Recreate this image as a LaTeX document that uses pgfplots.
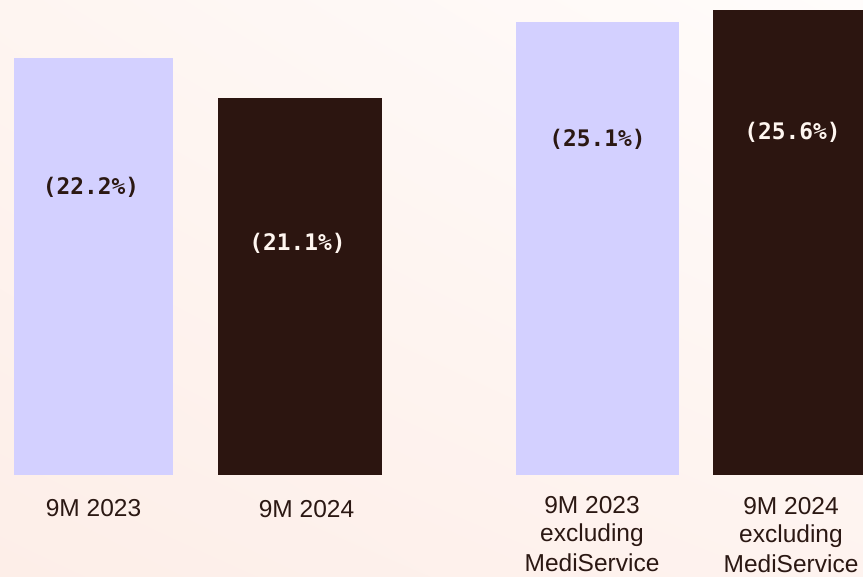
\documentclass[border=0pt]{standalone}
\usepackage{pgfplots}
\pgfplotsset{compat=1.18}
\usetikzlibrary{shadings}
\usepackage{fontspec}
\setmainfont{Liberation Sans}
\newfontfamily\monofont{DejaVu Sans Mono}
\definecolor{lav}{HTML}{D3D0FF}
\definecolor{dark}{HTML}{2C1510}
\definecolor{txt}{HTML}{2B1813}
\definecolor{creamtxt}{HTML}{FFF6F0}
\definecolor{bgLL}{HTML}{FDEEE8}
\definecolor{bgLR}{HTML}{FEF3EF}
\definecolor{bgUL}{HTML}{FEF5F1}
\definecolor{bgUR}{HTML}{FFFCFB}
\begin{document}
\begin{tikzpicture}
\shade[lower left=bgLL, lower right=bgLR, upper left=bgUL, upper right=bgUR] (0,0) rectangle (863pt,577pt);
\begin{axis}[at={(0,0)}, anchor=south west,
  width=863pt, height=577pt, scale only axis,
  xmin=0, xmax=863, ymin=-102, ymax=475,
  hide axis, clip=true,
  every node/.style={text=txt}]
\addplot[ybar, bar shift=0pt, bar width=159, fill=lav, draw=none] coordinates {(93.5,417)};
\addplot[ybar, bar shift=0pt, bar width=164, fill=dark, draw=none] coordinates {(300,377)};
\addplot[ybar, bar shift=0pt, bar width=163, fill=lav, draw=none] coordinates {(597.5,453)};
\addplot[ybar, bar shift=0pt, bar width=163, fill=dark, draw=none] coordinates {(794.5,465)};
% value labels
\node[font=\monofont\bfseries\fontsize{22.8}{27}\selectfont, text=txt] at (axis cs:91,288) {(22.2\%)};
\node[font=\monofont\bfseries\fontsize{22.8}{27}\selectfont, text=creamtxt] at (axis cs:297.5,232) {(21.1\%)};
\node[font=\monofont\bfseries\fontsize{22.8}{27}\selectfont, text=txt] at (axis cs:597.5,336) {(25.1\%)};
\node[font=\monofont\bfseries\fontsize{22.8}{27}\selectfont, text=creamtxt] at (axis cs:792.5,343) {(25.6\%)};
% category labels
\begin{scope}[every node/.style={anchor=base, text=txt, font=\fontsize{24.5}{29}\selectfont, inner sep=0pt}]
\node at (axis cs:93.5,-42) {9M 2023};
\node at (axis cs:306.5,-43) {9M 2024};
\node at (axis cs:592,-39) {9M 2023};
\node at (axis cs:592,-67) {excluding};
\node at (axis cs:592,-97) {MediService};
\node at (axis cs:791,-40) {9M 2024};
\node at (axis cs:791,-68) {excluding};
\node at (axis cs:791,-98) {MediService};
\end{scope}
\end{axis}
\end{tikzpicture}
\end{document}
